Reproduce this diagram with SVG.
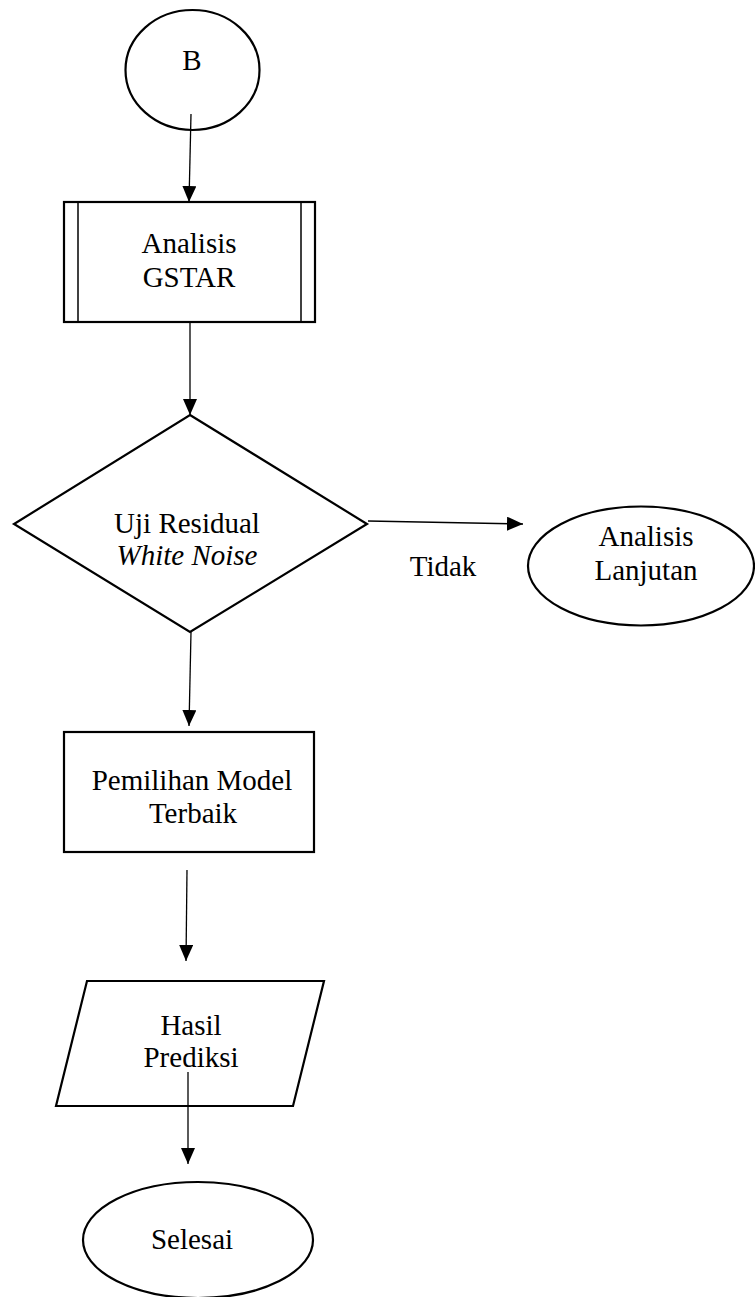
<svg xmlns="http://www.w3.org/2000/svg" width="755" height="1297" viewBox="0 0 755 1297">
<defs>
<marker id="ah" markerWidth="16" markerHeight="14" refX="16" refY="7" orient="auto" markerUnits="userSpaceOnUse">
<path d="M0,0 L16,7 L0,14 Z" fill="#000"/>
</marker>
<style>
.s{fill:#fff;stroke:#000;stroke-width:2.2}
.c{fill:none;stroke:#000;stroke-width:1.3;marker-end:url(#ah)}
text{font-family:"Liberation Serif","Times New Roman",serif;font-size:29px;fill:#000;text-anchor:middle}
.i{font-style:italic}
</style>
</defs>
<rect width="755" height="1297" fill="#fff"/>
<g id="nodeB">
<ellipse class="s" cx="192.5" cy="70" rx="67" ry="60"/>
<text x="192" y="70">B</text>
</g>
<g id="nodeGSTAR">
<rect class="s" x="64" y="202" width="251" height="120"/>
<line x1="78" y1="202" x2="78" y2="322" stroke="#000" stroke-width="1.5"/>
<line x1="301" y1="202" x2="301" y2="322" stroke="#000" stroke-width="1.5"/>
<text x="189" y="253">Analisis</text>
<text x="189" y="287">GSTAR</text>
</g>
<g id="nodeUji">
<polygon class="s" points="190,415 367,524 190,632 14,524"/>
<text x="187" y="533">Uji Residual</text>
<text class="i" x="187" y="565">White Noise</text>
</g>
<g id="labelTidak">
<text x="443" y="576">Tidak</text>
</g>
<g id="nodeLanjutan">
<ellipse class="s" cx="641" cy="566" rx="113" ry="59.5"/>
<text x="646" y="546">Analisis</text>
<text x="646" y="580">Lanjutan</text>
</g>
<g id="nodePemilihan">
<rect class="s" x="64" y="732" width="250" height="120"/>
<text x="192" y="790">Pemilihan Model</text>
<text x="193" y="823">Terbaik</text>
</g>
<g id="nodeHasil">
<polygon class="s" points="87,981 324,981 293,1106 56,1106"/>
<text x="191" y="1035">Hasil</text>
<text x="191" y="1067">Prediksi</text>
</g>
<g id="nodeSelesai">
<ellipse class="s" cx="198" cy="1240" rx="115" ry="58"/>
<text x="192" y="1249">Selesai</text>
</g>
<g id="connectors">
<line class="c" x1="191" y1="114" x2="189" y2="202"/>
<line class="c" x1="190" y1="322" x2="190" y2="415"/>
<line class="c" x1="368" y1="521" x2="523" y2="524"/>
<line class="c" x1="191" y1="632" x2="189" y2="726"/>
<line class="c" x1="187" y1="870" x2="186" y2="961"/>
<line class="c" x1="188" y1="1072" x2="188" y2="1164"/>
</g>
</svg>
